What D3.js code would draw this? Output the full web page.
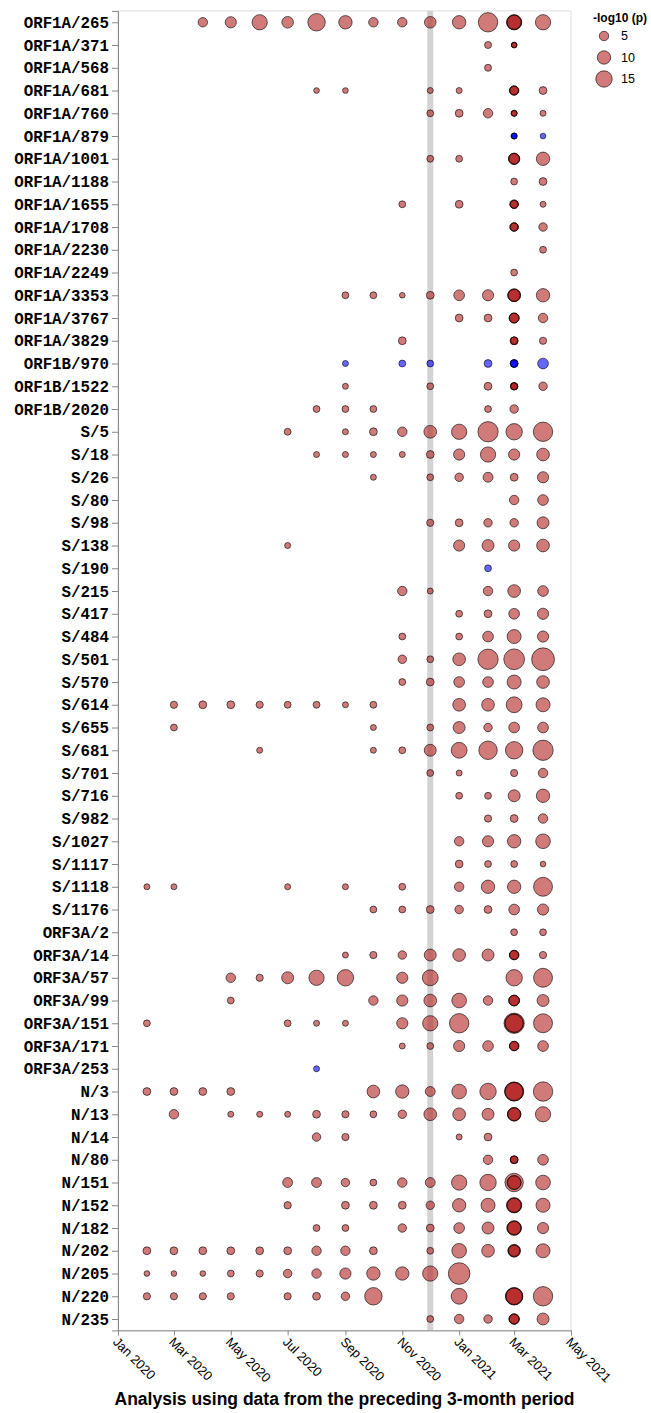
<!DOCTYPE html>
<html>
<head>
<meta charset="utf-8">
<script src="https://cdn.jsdelivr.net/npm/d3@7"></script>
<style>
  body { margin: 0; background: #fff; }
  svg { display: block; }
</style>
</head>
<body>
<div id="chart"></div>
<script>
  var _ = null;

  // analysis windows (end of the preceding 3-month period)
  var months = ['2020-02', '2020-03', '2020-04', '2020-05', '2020-06', '2020-07', '2020-08',
    '2020-09', '2020-10', '2020-11', '2020-12', '2021-01', '2021-02', '2021-03', '2021-04'];

  // -log10(p); negative = blue (opposite direction)
  var orf1aSites = ['ORF1A/265', 'ORF1A/371', 'ORF1A/568', 'ORF1A/681', 'ORF1A/760', 'ORF1A/879',
    'ORF1A/1001', 'ORF1A/1188', 'ORF1A/1655', 'ORF1A/1708', 'ORF1A/2230', 'ORF1A/2249',
    'ORF1A/3353', 'ORF1A/3767', 'ORF1A/3829'];
  var orf1aP = [
    [_, _, 5, 7, 13, 7.5, 17, 10, 5, 5, 7.5, 10, 21, 13, 13],
    [_, _, _, _, _, _, _, _, _, _, _, _, 2.7, 1.8, _],
    [_, _, _, _, _, _, _, _, _, _, _, _, 2.7, _, _],
    [_, _, _, _, _, _, 1.8, 1.8, _, _, 2, 2, _, 5, 3.4],
    [_, _, _, _, _, _, _, _, _, _, 2.6, 3.4, 5, 2, 2],
    [_, _, _, _, _, _, _, _, _, _, _, _, _, -2, -1.8],
    [_, _, _, _, _, _, _, _, _, _, 2.6, 2.6, _, 7, 10],
    [_, _, _, _, _, _, _, _, _, _, _, _, _, 2.6, 3.4],
    [_, _, _, _, _, _, _, _, _, 2.6, _, 3.4, _, 4, 2],
    [_, _, _, _, _, _, _, _, _, _, _, _, _, 4, 4],
    [_, _, _, _, _, _, _, _, _, _, _, _, _, _, 2.6],
    [_, _, _, _, _, _, _, _, _, _, _, _, _, 2.6, _],
    [_, _, _, _, _, _, _, 2.6, 2.6, 1.8, 3.4, 6.4, 7, 9, 10],
    [_, _, _, _, _, _, _, _, _, _, _, 3.4, 3.4, 5.5, 5],
    [_, _, _, _, _, _, _, _, _, 3.4, _, _, _, 3.4, 2.9]
  ];

  var orf1bSites = ['ORF1B/970', 'ORF1B/1522', 'ORF1B/2020'];
  var orf1bP = [
    [_, _, _, _, _, _, _, -2, _, -2.6, -2.6, _, -3.4, -3.4, -6.4],
    [_, _, _, _, _, _, _, 2, _, _, 2.6, _, 3.4, 2.9, 4],
    [_, _, _, _, _, _, 2.6, 2.6, 2.6, _, _, _, 2.6, 4, _]
  ];

  var sSites = ['S/5', 'S/18', 'S/26', 'S/80', 'S/98', 'S/138', 'S/190', 'S/215', 'S/417', 'S/484',
    'S/501', 'S/570', 'S/614', 'S/655', 'S/681', 'S/701', 'S/716', 'S/982', 'S/1027', 'S/1117',
    'S/1118', 'S/1176'];
  var sP = [
    [_, _, _, _, _, 2.6, _, 2, 3.4, 5, 9, 13, 23, 15, 21],
    [_, _, _, _, _, _, 2, 2, 2, 2, 3.4, 7, 13, 7, 9],
    [_, _, _, _, _, _, _, _, 2, _, 2.6, 4, 5.5, 3.4, 7],
    [_, _, _, _, _, _, _, _, _, _, _, _, _, 5, 6.4],
    [_, _, _, _, _, _, _, _, _, _, 2.9, 3.4, 4, 4, 8],
    [_, _, _, _, _, 2, _, _, _, _, _, 7, 8, 7, 9],
    [_, _, _, _, _, _, _, _, _, _, _, _, -2.6, _, _],
    [_, _, _, _, _, _, _, _, _, 5, 2, _, 5, 9, 6.4],
    [_, _, _, _, _, _, _, _, _, _, _, 2.6, 3.4, 6.4, 7],
    [_, _, _, _, _, _, _, _, _, 2.6, _, 2.6, 6.4, 11, 7],
    [_, _, _, _, _, _, _, _, _, 4, 2.6, 9, 23, 24, 29],
    [_, _, _, _, _, _, _, _, _, 2.6, 3.4, 6.4, 6.4, 11, 9],
    [_, 2.9, 3.4, 3.4, 2.9, 2.6, 2.6, 2, 2.6, _, _, 9, 9, 14, 11],
    [_, 2.6, _, _, _, _, _, _, 2, _, 2.6, 8, 4, 6.4, 6.4],
    [_, _, _, _, 2, _, _, _, 2, 2.6, 8, 14, 19, 17, 23],
    [_, _, _, _, _, _, _, _, _, _, 2.6, 2, _, 2.9, 5],
    [_, _, _, _, _, _, _, _, _, _, _, 2.6, 2.6, 8, 10],
    [_, _, _, _, _, _, _, _, _, _, _, _, 2.9, 3.4, 5],
    [_, _, _, _, _, _, _, _, _, _, _, 5, 7, 10, 12],
    [_, _, _, _, _, _, _, _, _, _, _, 3.4, 2.6, 2.6, 1.8],
    [2, 2, _, _, _, 2, _, 2, _, 2.6, _, 5, 10, 10, 20],
    [_, _, _, _, _, _, _, _, 2.6, 2.6, 3.4, 4, 3.4, 6.4, 7]
  ];

  var orf3aSites = ['ORF3A/2', 'ORF3A/14', 'ORF3A/57', 'ORF3A/99', 'ORF3A/151', 'ORF3A/171', 'ORF3A/253'];
  var orf3aP = [
    [_, _, _, _, _, _, _, _, _, _, _, _, _, 2.6, 2.6],
    [_, _, _, _, _, _, _, 2, 2.9, 4, 8, 9, 8, 5, 2.9],
    [_, _, _, 5, 2.9, 8, 13, 15, _, 7, 14, _, _, 15, 20],
    [_, _, _, 2.6, _, _, _, _, 5, 7, 9, 12, 5, 6.4, 8],
    [2.6, _, _, _, _, 2.6, 2, 2, _, 7, 13, 21, _, 23, 20],
    [_, _, _, _, _, _, _, _, _, 2, 2.6, 7, 6.4, 5, 6.4],
    [_, _, _, _, _, _, -2, _, _, _, _, _, _, _, _]
  ];

  var nSites = ['N/3', 'N/13', 'N/14', 'N/80', 'N/151', 'N/152', 'N/182', 'N/202', 'N/205', 'N/220', 'N/235'];
  var nP = [
    [3.4, 3.4, 3.4, 3.4, _, _, _, _, 9, 10, 5.5, 12, 15, 20, 21],
    [_, 5, _, 2, 2, 2, 3.4, 2.9, 2.6, 4, 9, 9, 8, 10, 13],
    [_, _, _, _, _, _, 4, 2.9, _, _, _, 2, 3.4, _, _],
    [_, _, _, _, _, _, _, _, _, _, _, _, 5, 3.4, 6.4],
    [_, _, _, _, _, 5.5, 5.5, 4, 2.6, 5, 5.5, 13, 15, 19, 12],
    [_, _, _, _, _, 3, _, 3.4, 3.4, 3.4, 4, 10, 11, 13, 11],
    [_, _, _, _, _, _, 2.6, 2.6, _, 4, 3.4, 6.4, 8, 12, 7],
    [3.4, 3.4, 3.4, 3.4, 3.4, 3.4, 5, 5, 3.4, _, 2.6, 12, 9, 9, 11],
    [1.8, 1.8, 1.8, 2.6, 2.9, 4, 5, 7, 10, 10, 13, 26, _, _, _],
    [2.9, 2.9, 2.9, 2.9, _, 2.9, 3.4, 4, 17, _, _, 14, _, 17, 21],
    [_, _, _, _, _, _, _, _, _, _, 2.6, 5, 4, 6, 8]
  ];

  // further overlapping results in the Mar 2021 window
  var mar2021Extra = [
    ['ORF1A/265', [12, 11]], ['ORF1A/371', [1.8, 1.5]], ['ORF1A/681', [4.5, 4]],
    ['ORF1A/760', [2, 1.8]], ['ORF1A/879', [-2, -1.8]], ['ORF1A/1001', [7, 6]],
    ['ORF1A/1655', [4, 3.4]], ['ORF1A/1708', [4, 3.4]], ['ORF1A/3353', [9, 8]],
    ['ORF1A/3767', [5.5, 5]], ['ORF1A/3829', [3.4, 3]], ['ORF1B/970', [-3.4, -3]],
    ['ORF1B/1522', [2.9, 2.9, 2.6]], ['ORF3A/14', [5, 4.5]], ['ORF3A/99', [6.4, 6]],
    ['ORF3A/151', [19, 18]], ['ORF3A/171', [5, 4.5]], ['N/3', [20, 18]], ['N/13', [10, 9]],
    ['N/80', [3.4, 3]], ['N/151', [11, 10]], ['N/152', [12, 11]], ['N/182', [11, 10]],
    ['N/202', [8, 7]], ['N/220', [16, 15]], ['N/235', [6, 5]]
  ];

  var legendValues = [5, 10, 15];
  var highlightMonth = '2020-12';
  var xTitle = 'Analysis using data from the preceding 3-month period';

  var width = 651, height = 1413;
  var margin = { top: 10.9, right: 80, bottom: 82.6, left: 118 };
  var plotW = 571 - margin.left;
  var plotH = height - margin.top - margin.bottom;

  var parseMonth = d3.timeParse('%Y-%m');
  var sites = orf1aSites.concat(orf1bSites, sSites, orf3aSites, nSites);
  var table = orf1aP.concat(orf1bP, sP, orf3aP, nP);

  var points = [];
  table.forEach(function(row, i) {
    row.forEach(function(v, j) {
      if (v !== null) points.push({ site: sites[i], date: parseMonth(months[j]), value: v });
    });
  });
  mar2021Extra.forEach(function(e) {
    e[1].forEach(function(v) {
      points.push({ site: e[0], date: parseMonth('2021-03'), value: v });
    });
  });

  var svg = d3.select('#chart').append('svg')
    .attr('width', width)
    .attr('height', height);

  var x = d3.scaleTime()
    .domain([parseMonth('2020-01'), parseMonth('2021-05')])
    .range([0, plotW]);

  var y = d3.scalePoint()
    .domain(sites)
    .range([0, plotH])
    .padding(0.5);

  var r = d3.scaleSqrt().domain([0, 15]).range([0, 8.2]);

  function fillOf(v) { return v < 0 ? '#0000ff' : '#b22222'; }

  var g = svg.append('g')
    .attr('transform', 'translate(' + margin.left + ',' + margin.top + ')');

  g.append('rect')
    .attr('width', plotW)
    .attr('height', plotH)
    .attr('fill', 'none')
    .attr('stroke', '#ddd');

  var hx = x(parseMonth(highlightMonth));
  g.append('rect')
    .attr('x', hx - 3)
    .attr('width', 6)
    .attr('height', plotH)
    .attr('fill', '#d3d3d3');

  g.selectAll('circle.pt')
    .data(points)
    .enter().append('circle')
    .attr('class', 'pt')
    .attr('cx', function(d) { return x(d.date); })
    .attr('cy', function(d) { return y(d.site); })
    .attr('r', function(d) { return r(Math.abs(d.value)); })
    .attr('fill', function(d) { return fillOf(d.value); })
    .attr('fill-opacity', 0.6)
    .attr('stroke', '#000')
    .attr('stroke-opacity', 0.6)
    .attr('stroke-width', 1);

  // y axis
  var yAxis = g.append('g').call(d3.axisLeft(y).tickSize(6).tickPadding(3));
  yAxis.select('.domain').attr('stroke', '#888');
  yAxis.selectAll('.tick line').attr('stroke', '#888');
  yAxis.selectAll('.tick text')
    .attr('font-family', '"Liberation Mono", "Courier New", monospace')
    .attr('font-weight', 'bold')
    .attr('font-size', '15.8px')
    .attr('fill', '#000');

  // x axis
  var xAxis = g.append('g')
    .attr('transform', 'translate(0,' + plotH + ')')
    .call(d3.axisBottom(x).ticks(d3.timeMonth.every(2)).tickFormat(d3.timeFormat('%b %Y')).tickSize(5));
  xAxis.select('.domain').attr('stroke', '#888');
  xAxis.selectAll('.tick line').attr('stroke', '#888');
  xAxis.selectAll('.tick text')
    .attr('font-family', '"Liberation Sans", Arial, sans-serif')
    .attr('font-size', '13px')
    .attr('fill', '#000')
    .attr('text-anchor', 'start')
    .attr('y', 0)
    .attr('dy', '0.35em')
    .attr('transform', 'translate(-3,9) rotate(45)');

  svg.append('text')
    .attr('x', margin.left + plotW / 2)
    .attr('y', 1405)
    .attr('text-anchor', 'middle')
    .attr('font-family', '"Liberation Sans", Arial, sans-serif')
    .attr('font-weight', 'bold')
    .attr('font-size', '17.5px')
    .text(xTitle);

  // size legend
  var legend = svg.append('g').attr('transform', 'translate(593,0)');
  legend.append('text')
    .attr('x', 0)
    .attr('y', 22)
    .attr('font-family', '"Liberation Sans", Arial, sans-serif')
    .attr('font-weight', 'bold')
    .attr('font-size', '12px')
    .text('-log10 (p)');

  var items = legend.selectAll('g.item')
    .data(legendValues)
    .enter().append('g')
    .attr('class', 'item')
    .attr('transform', function(d, i) { return 'translate(11,' + (36 + i * 21.5) + ')'; });
  items.append('circle')
    .attr('r', function(d) { return r(d); })
    .attr('fill', '#b22222')
    .attr('fill-opacity', 0.6)
    .attr('stroke', '#000')
    .attr('stroke-opacity', 0.6);
  items.append('text')
    .attr('x', 17)
    .attr('dy', '0.35em')
    .attr('font-family', '"Liberation Sans", Arial, sans-serif')
    .attr('font-size', '12.5px')
    .text(function(d) { return d; });
</script>
</body>
</html>
